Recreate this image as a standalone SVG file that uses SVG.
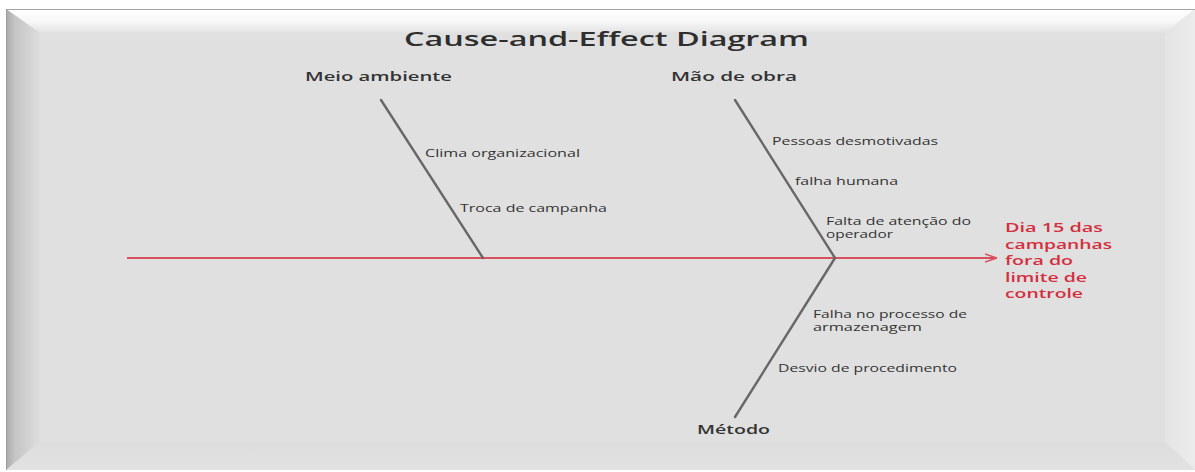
<svg xmlns="http://www.w3.org/2000/svg" width="1195" height="472" viewBox="0 0 1195 472">
  <defs>
    <linearGradient id="bevelTop" x1="0" y1="0" x2="0" y2="1">
      <stop offset="0" stop-color="#ffffff"/>
      <stop offset="0.55" stop-color="#f6f6f6"/>
      <stop offset="1" stop-color="#e2e2e2"/>
    </linearGradient>
    <linearGradient id="bevelLeft" x1="0" y1="0" x2="1" y2="0">
      <stop offset="0" stop-color="#a9a9a9"/>
      <stop offset="0.25" stop-color="#c4c4c4"/>
      <stop offset="1" stop-color="#dedede"/>
    </linearGradient>
    <linearGradient id="bevelRight" x1="0" y1="0" x2="1" y2="0">
      <stop offset="0" stop-color="#e4e4e4"/>
      <stop offset="1" stop-color="#ececec"/>
    </linearGradient>
    <linearGradient id="bevelBottom" x1="0" y1="0" x2="0" y2="1">
      <stop offset="0" stop-color="#dddddd"/>
      <stop offset="1" stop-color="#e2e2e2"/>
    </linearGradient>
    <marker id="effectArrow" viewBox="0 0 12 10" refX="12" refY="5" markerWidth="12" markerHeight="10" markerUnits="userSpaceOnUse" orient="auto">
      <path d="M0,1 L12,5 L0,9" fill="none" stroke="#d9505e" stroke-width="1.4"/>
    </marker>
    <style>
      .title { font-family: "Open Sans", "DejaVu Sans", sans-serif; font-size: 20px; font-weight: 600; fill: #2e2e2e; }
      .cat { font-family: "Open Sans", "DejaVu Sans", sans-serif; font-size: 13px; font-weight: 600; fill: #333333; }
      .cause { font-family: "Open Sans", "DejaVu Sans", sans-serif; font-size: 11px; fill: #333333; }
      .effect { font-family: "Open Sans", "DejaVu Sans", sans-serif; font-size: 13px; font-weight: 600; fill: #d42f3e; }
      .bone { stroke: #686868; stroke-width: 2.4; fill: none; stroke-linecap: round; }
      .spine { stroke: #d9505e; stroke-width: 1.8; fill: none; }
    </style>
  </defs>

  <!-- page and bevelled panel -->
  <rect x="0" y="0" width="1195" height="472" fill="#ffffff"/>
  <rect x="6" y="9" width="1195" height="461" fill="#e0e0e0"/>
  <polygon points="6,9 1195,9 1165,33 40,33" fill="url(#bevelTop)"/>
  <polygon points="6,9 40,33 40,442 6,470" fill="url(#bevelLeft)"/>
  <polygon points="1195,9 1195,470 1165,442 1165,33" fill="url(#bevelRight)"/>
  <polygon points="6,470 40,442 1165,442 1195,470" fill="url(#bevelBottom)"/>
  <line x1="6" y1="9.5" x2="1195" y2="9.5" stroke="#a4a4a4" stroke-width="1"/>
  <line x1="6.5" y1="9" x2="6.5" y2="470" stroke="#9c9c9c" stroke-width="1"/>

  <text class="title" x="404" y="46" textLength="405" lengthAdjust="spacingAndGlyphs">Cause-and-Effect Diagram</text>

  <!-- spine and category bones -->
  <g id="connectors">
    <line class="spine" x1="127" y1="258" x2="997" y2="258" marker-end="url(#effectArrow)"/>
    <line class="bone" x1="381" y1="100" x2="483" y2="258"/>
    <line class="bone" x1="735" y1="100" x2="835" y2="258"/>
    <line class="bone" x1="835" y1="258" x2="735" y2="417"/>
  </g>

  <g id="meio-ambiente">
    <text class="cat" x="305" y="81" textLength="147" lengthAdjust="spacingAndGlyphs">Meio ambiente</text>
    <text class="cause" x="425" y="157" textLength="155" lengthAdjust="spacingAndGlyphs">Clima organizacional</text>
    <text class="cause" x="460" y="212" textLength="147" lengthAdjust="spacingAndGlyphs">Troca de campanha</text>
  </g>

  <g id="mao-de-obra">
    <text class="cat" x="671" y="81" textLength="126" lengthAdjust="spacingAndGlyphs">Mão de obra</text>
    <text class="cause" x="772" y="145" textLength="166" lengthAdjust="spacingAndGlyphs">Pessoas desmotivadas</text>
    <text class="cause" x="795" y="185" textLength="103" lengthAdjust="spacingAndGlyphs">falha humana</text>
    <text class="cause" x="826" y="225" textLength="145" lengthAdjust="spacingAndGlyphs">Falta de atenção do</text>
    <text class="cause" x="826" y="238" textLength="67" lengthAdjust="spacingAndGlyphs">operador</text>
  </g>

  <g id="metodo">
    <text class="cat" x="697" y="434" textLength="73" lengthAdjust="spacingAndGlyphs">Método</text>
    <text class="cause" x="813" y="318" textLength="154" lengthAdjust="spacingAndGlyphs">Falha no processo de</text>
    <text class="cause" x="813" y="331" textLength="109" lengthAdjust="spacingAndGlyphs">armazenagem</text>
    <text class="cause" x="778" y="372" textLength="179" lengthAdjust="spacingAndGlyphs">Desvio de procedimento</text>
  </g>

  <g id="efeito">
    <text class="effect" x="1005" y="232" textLength="98" lengthAdjust="spacingAndGlyphs">Dia 15 das</text>
    <text class="effect" x="1005" y="248.5" textLength="107" lengthAdjust="spacingAndGlyphs">campanhas</text>
    <text class="effect" x="1005" y="265" textLength="68" lengthAdjust="spacingAndGlyphs">fora do</text>
    <text class="effect" x="1005" y="281.5" textLength="82" lengthAdjust="spacingAndGlyphs">limite de</text>
    <text class="effect" x="1005" y="298" textLength="78" lengthAdjust="spacingAndGlyphs">controle</text>
  </g>
</svg>
